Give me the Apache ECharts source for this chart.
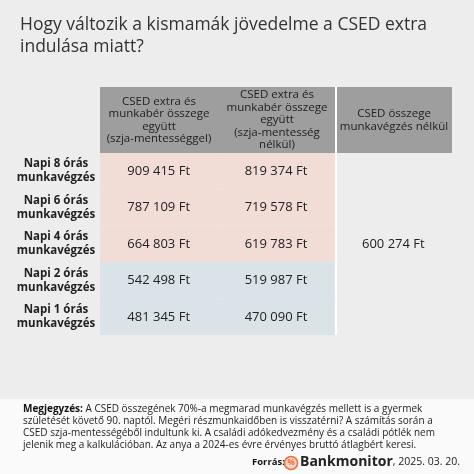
<!DOCTYPE html><html><head><meta charset="utf-8">
<script src="https://cdn.jsdelivr.net/npm/echarts@6/dist/echarts.min.js"></script>
<style>html,body{margin:0;padding:0;background:#ededed}#c{width:474px;height:474px}</style></head><body><div id="c"></div>
<script>
const rowLabels=["Napi 8 órás\nmunkavégzés","Napi 6 órás\nmunkavégzés","Napi 4 órás\nmunkavégzés","Napi 2 órás\nmunkavégzés","Napi 1 órás\nmunkavégzés"];
const headers=["CSED extra és\nmunkabér összege\negyütt\n(szja-mentességgel)","CSED extra és\nmunkabér összege\negyütt\n(szja-mentesség\nnélkül)","CSED összege\nmunkavégzés nélkül"];
const withExemption=["909 415 Ft","787 109 Ft","664 803 Ft","542 498 Ft","481 345 Ft"];
const withoutExemption=["819 374 Ft","719 578 Ft","619 783 Ft","519 987 Ft","470 090 Ft"];
const noWork="600 274 Ft";
const F='"Open Sans",sans-serif';
const data=[];
rowLabels.forEach((r,i)=>{data.push([0,i,withExemption[i]]);data.push([1,i,withoutExemption[i]]);});
data.push([2,-1,noWork]);
const chart=echarts.init(document.getElementById('c'));
chart.setOption({
 backgroundColor:'#ededed',animation:false,
 grid:{left:100,right:22,top:153,bottom:139},
 xAxis:{type:'value',min:0,max:3,show:false},
 yAxis:{type:'category',inverse:true,data:rowLabels,axisLine:{show:false},axisTick:{show:false},
  axisLabel:{fontFamily:F,fontWeight:'bold',fontSize:11.5,color:'#222',align:'center',margin:44,lineHeight:14}},
 series:[{type:'custom',data:data,renderItem:(p,api)=>{
   const c=api.value(0),r=api.value(1),t=data[p.dataIndex][2];
   if(r<0){const a=api.coord([c,0]),b=api.coord([c+1,0]);
     const y0=153,y1=335;
     return {type:'text',style:{text:t,x:(a[0]+b[0])/2,y:(y0+y1)/2,align:'center',verticalAlign:'middle',font:'13px '+F,fill:'#222'}};}
   const p0=api.coord([c,r]),sz=api.size([1,1]);
   const x0=api.coord([c,0])[0],x1=api.coord([c+1,0])[0];
   return {type:'group',children:[
     {type:'rect',shape:{x:x0,y:p0[1]-sz[1]/2,width:x1-x0,height:sz[1]},style:{fill:r<3?'#f2ddd6':'#d9e3e8'}},
     {type:'text',style:{text:t,x:(x0+x1)/2,y:p0[1],align:'center',verticalAlign:'middle',font:'13px '+F,fill:'#222'}}]};
 }}],
 graphic:[
  {type:'text',left:20,top:14,style:{text:'Hogy változik a kismamák jövedelme a CSED extra\nindulása miatt?',font:'17.5px '+F,fill:'#333',lineHeight:22}},
  {type:'rect',shape:{x:100,y:87,width:352,height:66},style:{fill:'#9e9e9e'}},
  {type:'text',x:159,y:120,style:{text:headers[0],align:'center',verticalAlign:'middle',font:'11.5px '+F,fill:'#222',lineHeight:12.5}},
  {type:'text',x:277,y:120,style:{text:headers[1],align:'center',verticalAlign:'middle',font:'11.5px '+F,fill:'#222',lineHeight:12.5}},
  {type:'text',x:394,y:120,style:{text:headers[2],align:'center',verticalAlign:'middle',font:'11.5px '+F,fill:'#222',lineHeight:12.5}},
  {type:'line',shape:{x1:336,y1:87,x2:336,y2:335},style:{stroke:'#fff',lineWidth:2}},
  {type:'rect',shape:{x:0,y:399,width:474,height:75},style:{fill:'#fafafa'}},
  {type:'text',x:23,y:403,style:{rich:{b:{fontWeight:'bold',fontFamily:F,fontSize:10,fill:'#111'},n:{fontFamily:F,fontSize:10,fill:'#222'}},
    text:'{b|Megjegyzés:}{n| A CSED összegének 70%-a megmarad munkavégzés mellett is a gyermek}\n{n|születését követő 90. naptól. Megéri részmunkaidőben is visszatérni? A számítás során a}\n{n|CSED szja-mentességéből indultunk ki. A családi adókedvezmény és a családi pótlék nem}\n{n|jelenik meg a kalkulációban. Az anya a 2024-es évre érvényes bruttó átlagbért keresi.}',lineHeight:12}},
  {type:'text',x:252,y:457,style:{text:'Forrás:',font:'bold 9.5px '+F,fill:'#111'}},
  {type:'circle',shape:{cx:291,cy:463,r:6.5},style:{fill:'#fbd6c6',stroke:'#f26b3a',lineWidth:1.5}},
  {type:'text',x:291,y:463,style:{text:'%',align:'center',verticalAlign:'middle',font:'bold 8px '+F,fill:'#f26b3a'}},
  {type:'text',x:300,y:455,style:{rich:{a:{fontWeight:'bold',fontFamily:F,fontSize:14,fill:'#222'},d:{fontFamily:F,fontSize:10.5,fill:'#222'}},text:'{a|Bankmonitor}{d|, 2025. 03. 20.}'}}
 ]
});
</script></body></html>
